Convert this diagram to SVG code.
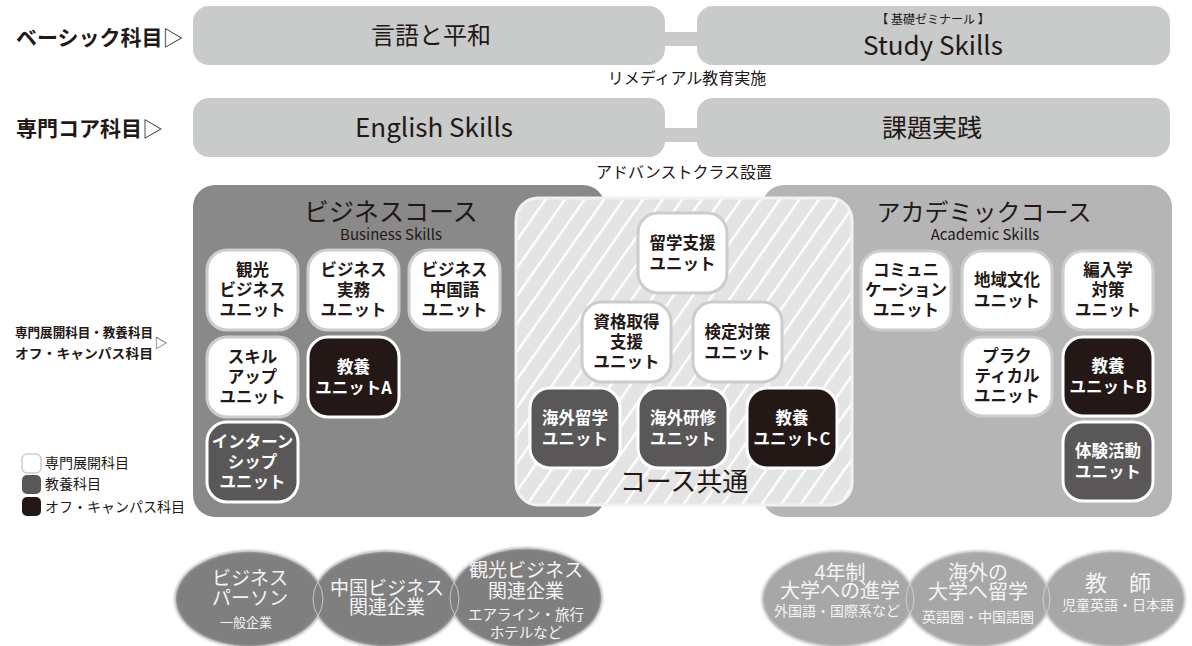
<svg xmlns="http://www.w3.org/2000/svg" width="1192" height="646" viewBox="0 0 1192 646">
<style>
text{font-family:"Noto Sans CJK JP","Noto Sans",sans-serif;fill:#231815}
.lbl{font-weight:700}
.thin{font-weight:400}
.topbox{fill:#c9caca}
.mid{font-size:16px}
.u{rx:20px;ry:20px;stroke-width:3}
.uw{fill:#ffffff;stroke:#cccccc}
.ug{fill:#595757;stroke:#ffffff}
.ub{fill:#231815;stroke:#ffffff}
.ut{font-size:16.5px;font-weight:700;text-anchor:middle}
.utw{fill:#ffffff}
.c{text-anchor:middle}
.ell1{fill:#7f7f7f}
.ell2{fill:#a7a7a7}
.eo{fill:none;stroke:#d9d9d9;stroke-width:0.8}
.et{fill:#f4f4f4;text-anchor:middle}
</style>
<defs>
<pattern id="hatch" width="16" height="16" patternUnits="userSpaceOnUse" patternTransform="rotate(35)">
<rect width="16" height="16" fill="#e4e4e4"/>
<rect x="0" y="0" width="2.4" height="16" fill="#ffffff"/>
</pattern>
<filter id="soft" x="-10%" y="-10%" width="120%" height="120%">
<feGaussianBlur stdDeviation="1.5"/>
</filter>
</defs>
<rect width="1192" height="646" fill="#ffffff"/>

<g id="row-labels">
<text class="lbl" x="16" y="45" font-size="21">ベーシック科目<tspan class="thin">▷</tspan></text>
<text class="lbl" x="16" y="136" font-size="21">専門コア科目<tspan class="thin">▷</tspan></text>
<text class="lbl" x="15" y="337" font-size="13" textLength="138" lengthAdjust="spacingAndGlyphs">専門展開科目・教養科目</text>
<text class="lbl" x="15" y="358" font-size="13" textLength="138" lengthAdjust="spacingAndGlyphs">オフ・キャンパス科目</text>
<text x="161" y="347" font-size="13" text-anchor="middle">▷</text>
</g>

<g id="connectors">
<rect x="660" y="32" width="42" height="14" class="topbox"/>
<rect x="660" y="128" width="42" height="14" class="topbox"/>
</g>

<g id="node-gengo">
<rect x="193" y="6" width="472" height="59" rx="16" class="topbox"/>
<text x="431" y="44" font-size="24" class="c">言語と平和</text>
</g>
<g id="node-study">
<rect x="697" y="6" width="473" height="59" rx="16" class="topbox"/>
<text x="933" y="24" font-size="12" class="c">【 基礎ゼミナール 】</text>
<text x="933" y="55" font-size="26" class="c">Study Skills</text>
</g>
<text x="687" y="84" class="mid c">リメディアル教育実施</text>
<g id="node-english">
<rect x="193" y="98" width="472" height="59" rx="16" class="topbox"/>
<text x="434" y="137" font-size="26" class="c">English Skills</text>
</g>
<g id="node-kadai">
<rect x="697" y="98" width="473" height="59" rx="16" class="topbox"/>
<text x="932" y="137" font-size="25" class="c">課題実践</text>
</g>
<text x="684" y="178" class="mid c">アドバンストクラス設置</text>

<g id="business-course">
<rect x="193" y="185" width="412" height="332" rx="22" fill="#898989"/>
<text x="391" y="221" font-size="25" class="c">ビジネスコース</text>
<text x="391" y="240" font-size="15" class="c">Business Skills</text>
</g>
<g id="academic-course">
<rect x="762" y="185" width="410" height="332" rx="22" fill="#b5b5b5"/>
<text x="984" y="221" font-size="24" class="c">アカデミックコース</text>
<text x="985" y="240" font-size="15" class="c">Academic Skills</text>
</g>
<g id="common-course">
<rect x="516" y="198" width="336" height="307" rx="22" fill="url(#hatch)" stroke="#f2f2f2" stroke-width="3"/>
<text x="684" y="491" font-size="26" class="c">コース共通</text>
</g>

<g id="unit-kanko">
<rect class="u uw" x="207" y="250" width="91" height="80"/>
<text class="ut" x="252.5" y="276">観光</text>
<text class="ut" x="252.5" y="296">ビジネス</text>
<text class="ut" x="252.5" y="316">ユニット</text>
</g>
<g id="unit-jitsumu">
<rect class="u uw" x="308" y="250" width="91" height="80"/>
<text class="ut" x="353.5" y="276">ビジネス</text>
<text class="ut" x="353.5" y="296">実務</text>
<text class="ut" x="353.5" y="316">ユニット</text>
</g>
<g id="unit-chugokugo">
<rect class="u uw" x="409" y="250" width="91" height="80"/>
<text class="ut" x="454.5" y="276">ビジネス</text>
<text class="ut" x="454.5" y="296">中国語</text>
<text class="ut" x="454.5" y="316">ユニット</text>
</g>
<g id="unit-skillup">
<rect class="u uw" x="207" y="337" width="91" height="80"/>
<text class="ut" x="252.5" y="363">スキル</text>
<text class="ut" x="252.5" y="383">アップ</text>
<text class="ut" x="252.5" y="403">ユニット</text>
</g>
<g id="unit-kyoyo-a">
<rect class="u ub" x="308" y="337" width="91" height="80"/>
<text class="ut utw" x="353.5" y="373">教養</text>
<text class="ut utw" x="353.5" y="394">ユニットA</text>
</g>
<g id="unit-intern">
<rect class="u ug" x="207" y="422" width="91" height="80"/>
<text class="ut utw" x="252.5" y="448">インターン</text>
<text class="ut utw" x="252.5" y="468">シップ</text>
<text class="ut utw" x="252.5" y="488">ユニット</text>
</g>

<g id="unit-ryugaku-shien">
<rect class="u uw" x="638" y="213" width="89" height="80"/>
<text class="ut" x="682.5" y="249">留学支援</text>
<text class="ut" x="682.5" y="270">ユニット</text>
</g>
<g id="unit-shikaku">
<rect class="u uw" x="582" y="302" width="89" height="80"/>
<text class="ut" x="626.5" y="328">資格取得</text>
<text class="ut" x="626.5" y="348">支援</text>
<text class="ut" x="626.5" y="368">ユニット</text>
</g>
<g id="unit-kentei">
<rect class="u uw" x="693" y="302" width="89" height="80"/>
<text class="ut" x="737.5" y="338">検定対策</text>
<text class="ut" x="737.5" y="359">ユニット</text>
</g>
<g id="unit-kaigai-ryugaku">
<rect class="u ug" x="530" y="388" width="90" height="80"/>
<text class="ut utw" x="575" y="424">海外留学</text>
<text class="ut utw" x="575" y="445">ユニット</text>
</g>
<g id="unit-kaigai-kenshu">
<rect class="u ug" x="638" y="388" width="90" height="80"/>
<text class="ut utw" x="683" y="424">海外研修</text>
<text class="ut utw" x="683" y="445">ユニット</text>
</g>
<g id="unit-kyoyo-c">
<rect class="u ub" x="747" y="388" width="90" height="80"/>
<text class="ut utw" x="792" y="424">教養</text>
<text class="ut utw" x="792" y="445">ユニットC</text>
</g>

<g id="unit-communication">
<rect class="u uw" x="861" y="251" width="90" height="79"/>
<text class="ut" x="906" y="276">コミュニ</text>
<text class="ut" x="906" y="296">ケーション</text>
<text class="ut" x="906" y="316">ユニット</text>
</g>
<g id="unit-chiiki">
<rect class="u uw" x="962" y="251" width="90" height="79"/>
<text class="ut" x="1007" y="286">地域文化</text>
<text class="ut" x="1007" y="307">ユニット</text>
</g>
<g id="unit-hennyu">
<rect class="u uw" x="1063" y="251" width="90" height="79"/>
<text class="ut" x="1108" y="276">編入学</text>
<text class="ut" x="1108" y="296">対策</text>
<text class="ut" x="1108" y="316">ユニット</text>
</g>
<g id="unit-practical">
<rect class="u uw" x="962" y="337" width="90" height="79"/>
<text class="ut" x="1007" y="362">プラク</text>
<text class="ut" x="1007" y="382">ティカル</text>
<text class="ut" x="1007" y="402">ユニット</text>
</g>
<g id="unit-kyoyo-b">
<rect class="u ub" x="1063" y="337" width="90" height="79"/>
<text class="ut utw" x="1108" y="372">教養</text>
<text class="ut utw" x="1108" y="393">ユニットB</text>
</g>
<g id="unit-taiken">
<rect class="u ug" x="1063" y="422" width="90" height="79"/>
<text class="ut utw" x="1108" y="457">体験活動</text>
<text class="ut utw" x="1108" y="478">ユニット</text>
</g>

<g id="legend">
<rect x="22" y="454" width="19" height="19" rx="5" fill="#ffffff" stroke="#cccccc" stroke-width="1.5"/>
<text x="45" y="468" font-size="14">専門展開科目</text>
<rect x="22" y="475" width="19" height="19" rx="5" fill="#595757"/>
<text x="45" y="489" font-size="14">教養科目</text>
<rect x="22" y="497" width="19" height="19" rx="5" fill="#231815"/>
<text x="45" y="512" font-size="14">オフ・キャンパス科目</text>
</g>

<g id="careers-business">
<g filter="url(#soft)">
<ellipse class="ell1" cx="249" cy="599" rx="74" ry="48"/>
<ellipse class="ell1" cx="386" cy="599" rx="73" ry="48"/>
<ellipse class="ell1" cx="526" cy="598" rx="76" ry="50"/>
</g>
<ellipse class="eo" cx="249" cy="599" rx="74" ry="48"/>
<ellipse class="eo" cx="386" cy="599" rx="73" ry="48"/>
<ellipse class="eo" cx="526" cy="598" rx="76" ry="50"/>
<g id="career-person">
<text class="et" x="250" y="585" font-size="19">ビジネス</text>
<text class="et" x="250" y="605" font-size="19">パーソン</text>
<text class="et" x="246" y="627" font-size="13">一般企業</text>
</g>
<g id="career-china">
<text class="et" x="387" y="595" font-size="19">中国ビジネス</text>
<text class="et" x="387" y="614" font-size="19">関連企業</text>
</g>
<g id="career-tourism">
<text class="et" x="526" y="577" font-size="19">観光ビジネス</text>
<text class="et" x="526" y="598" font-size="19">関連企業</text>
<text class="et" x="526" y="620" font-size="14.5">エアライン・旅行</text>
<text class="et" x="526" y="638" font-size="14.5">ホテルなど</text>
</g>
</g>

<g id="careers-academic">
<g filter="url(#soft)">
<ellipse class="ell2" cx="838" cy="599" rx="76" ry="48"/>
<ellipse class="ell2" cx="978" cy="599" rx="72" ry="48"/>
<ellipse class="ell2" cx="1114" cy="599" rx="71" ry="48"/>
</g>
<ellipse class="eo" cx="838" cy="599" rx="76" ry="48"/>
<ellipse class="eo" cx="978" cy="599" rx="72" ry="48"/>
<ellipse class="eo" cx="1114" cy="599" rx="71" ry="48"/>
<g id="career-university">
<text class="et" x="840" y="580" font-size="20">4年制</text>
<text class="et" x="840" y="598" font-size="20">大学への進学</text>
<text class="et" x="837" y="616" font-size="14">外国語・国際系など</text>
</g>
<g id="career-abroad">
<text class="et" x="978" y="580" font-size="20">海外の</text>
<text class="et" x="978" y="599" font-size="20">大学へ留学</text>
<text class="et" x="978" y="622" font-size="14">英語圏・中国語圏</text>
</g>
<g id="career-teacher">
<text class="et" x="1118" y="591" font-size="22">教　師</text>
<text class="et" x="1118" y="610" font-size="14">児童英語・日本語</text>
</g>
</g>
</svg>
